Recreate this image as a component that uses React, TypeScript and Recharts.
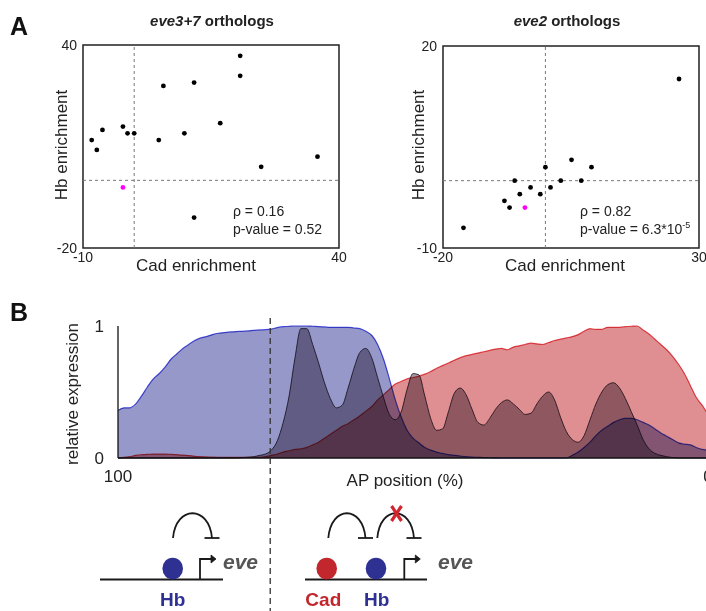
import React from 'react';
import {
  ScatterChart,
  Scatter,
  XAxis,
  YAxis,
  ReferenceLine,
  ReferenceArea,
  AreaChart,
  Area,
} from 'recharts';

const FONT = 'Arial, "Liberation Sans", Helvetica, sans-serif';

// panel A, eve3+7 orthologs
const cadEve37 = [-8.3, -7.3, -6.2, -2.2, -1.3, 0, 4.8, 5.7, 9.8, 11.7, 11.7, 16.8, 20.7, 20.7, 24.8, 35.8];
const hbEve37 = [11.9, 9.0, 14.9, 15.9, 13.9, 13.9, 11.9, 27.9, 13.9, 28.9, -11.0, 16.9, 36.8, 30.9, 4.0, 7.0];
const cadEve37Mel = [-2.2];
const hbEve37Mel = [-2.1];

// panel A, eve2 orthologs
const cadEve2 = [26.1, 5.1, 9.0, 0, 3.0, 7.0, -6.0, -2.9, 1.0, -5.0, -1.0, -8.0, -7.0, -16.0];
const hbEve2 = [15.1, 3.1, 2.0, 2.0, 0, 0, 0, -1.0, -1.0, -2.0, -2.0, -3.0, -4.0, -7.0];
const cadEve2Mel = [-4.0];
const hbEve2Mel = [-4.0];

// panel B, AP position 100 -> 0 (%)
const apPosition = [
  100, 99, 98, 97, 96, 95, 94, 93, 92, 91, 90, 89, 88, 87, 86, 85, 84, 83, 82, 81,
  80, 79, 78, 77, 76, 75, 74, 73, 72, 71, 70, 69, 68, 67, 66, 65, 64, 63, 62, 61,
  60, 59, 58, 57, 56, 55, 54, 53, 52, 51, 50, 49, 48, 47, 46, 45, 44, 43, 42, 41,
  40, 39, 38, 37, 36, 35, 34, 33, 32, 31, 30, 29, 28, 27, 26, 25, 24, 23, 22, 21,
  20, 19, 18, 17, 16, 15, 14, 13, 12, 11, 10, 9, 8, 7, 6, 5, 4, 3, 2, 1, 0,
];
const hbExpression = [
  0.36, 0.38, 0.38, 0.41, 0.47, 0.54, 0.6, 0.64, 0.69, 0.75, 0.79,
  0.83, 0.86, 0.89, 0.91, 0.92, 0.935, 0.945, 0.95, 0.955, 0.958,
  0.96, 0.963, 0.967, 0.97, 0.972, 0.977, 0.988, 0.995, 0.997, 1.0,
  1.0, 1.0, 0.998, 0.996, 0.993, 0.99, 0.99, 0.99, 0.99, 0.985,
  0.98, 0.96, 0.93, 0.86, 0.75, 0.6, 0.44, 0.31, 0.21, 0.15,
  0.115, 0.08, 0.06, 0.045, 0.035, 0.025, 0.02, 0.015, 0.01, 0.007,
  0.005, 0.003, 0.002, 0.001, 0, 0, 0, 0, 0, 0,
  0, 0, 0, 0, 0, 0, 0.02, 0.045, 0.08, 0.12,
  0.17, 0.21, 0.24, 0.27, 0.29, 0.3, 0.3, 0.29, 0.27, 0.25,
  0.22, 0.19, 0.165, 0.14, 0.115, 0.105, 0.1, 0.08, 0.065, 0.06,
];
const cadExpression = [
  0, 0.005, 0.01, 0.02, 0.025, 0.028, 0.03, 0.03, 0.03, 0.028, 0.025,
  0.022, 0.018, 0.013, 0.01, 0.008, 0.006, 0.005, 0.005, 0.005, 0.005,
  0.005, 0.005, 0.005, 0.005, 0.01, 0.02, 0.03, 0.045, 0.055, 0.065,
  0.07, 0.08, 0.1, 0.12, 0.15, 0.18, 0.21, 0.24, 0.26, 0.29,
  0.32, 0.355, 0.39, 0.44, 0.48, 0.52, 0.56, 0.58, 0.6, 0.61,
  0.62, 0.635, 0.655, 0.68, 0.7, 0.72, 0.74, 0.76, 0.775, 0.785,
  0.795, 0.805, 0.815, 0.825, 0.83, 0.82, 0.84, 0.85, 0.86, 0.87,
  0.865, 0.86, 0.875, 0.89, 0.9, 0.91, 0.92, 0.935, 0.96, 0.98,
  0.975, 0.975, 0.99, 0.99, 0.99, 0.995, 0.998, 1.0, 0.97, 0.94,
  0.9, 0.86, 0.82, 0.77, 0.71, 0.64, 0.55, 0.46, 0.4, 0.33,
];
const eveExpression = [
  0, 0, 0, 0, 0, 0, 0, 0, 0, 0, 0,
  0, 0, 0, 0, 0, 0, 0, 0, 0, 0,
  0.003, 0.006, 0.01, 0.02, 0.03, 0.06, 0.13, 0.27, 0.47, 0.76,
  0.98, 0.98, 0.86, 0.72, 0.57, 0.45, 0.38, 0.4, 0.53, 0.68,
  0.8, 0.83, 0.76, 0.61, 0.46, 0.33, 0.29, 0.35, 0.52, 0.64,
  0.63, 0.47, 0.3, 0.21, 0.22, 0.35, 0.49, 0.53, 0.48, 0.37,
  0.27, 0.25, 0.3, 0.37, 0.42, 0.44, 0.41, 0.37, 0.33, 0.34,
  0.41, 0.47, 0.5, 0.44, 0.31, 0.2, 0.14, 0.12, 0.17, 0.29,
  0.41, 0.5, 0.555, 0.57, 0.53, 0.45, 0.35, 0.25, 0.14, 0.07,
  0.035, 0.02, 0.01, 0.003, 0, 0, 0, 0, 0, 0,
];
const apTicks = [100, 0];
const exprTicks = [0, 1];
const hbBoundary = 74.2;

const toPoints = (xs: number[], ys: number[]) => xs.map((x, i) => ({ x, y: ys[i] }));

const profile = apPosition.map((ap, i) => ({
  ap,
  hb: hbExpression[i],
  cad: cadExpression[i],
  eve: eveExpression[i],
}));

const dot = (color: string) => (p: any) => <circle cx={p.cx} cy={p.cy} r={2.4} fill={color} />;

const tickStyle = { fontSize: 14, fill: '#222', fontFamily: FONT };

interface OrthoProps {
  cad: number[];
  hb: number[];
  melCad: number[];
  melHb: number[];
  xDomain: [number, number];
  yDomain: [number, number];
  width: number;
  margin: { top: number; right: number; bottom: number; left: number };
}

// axis boxes: x axis 20px tall, y axis 30px wide (taken out of the margins)
function OrthoScatter({ cad, hb, melCad, melHb, xDomain, yDomain, width, margin }: OrthoProps) {
  return (
    <ScatterChart
      width={width}
      height={290}
      margin={{ ...margin, left: margin.left - 30, bottom: margin.bottom - 20 }}
    >
      <XAxis
        type="number"
        dataKey="x"
        domain={xDomain}
        ticks={xDomain}
        height={20}
        axisLine={false}
        tickLine={false}
        tickSize={0}
        tickMargin={4}
        tick={tickStyle}
        allowDataOverflow
      />
      <YAxis
        type="number"
        dataKey="y"
        domain={yDomain}
        ticks={yDomain}
        width={30}
        axisLine={false}
        tickLine={false}
        tickSize={0}
        tickMargin={6}
        tick={tickStyle}
        allowDataOverflow
      />
      <ReferenceArea
        x1={xDomain[0]}
        x2={xDomain[1]}
        y1={yDomain[0]}
        y2={yDomain[1]}
        fill="none"
        fillOpacity={0}
        stroke="#222"
        strokeWidth={1.5}
      />
      <ReferenceLine x={0} stroke="#777" strokeDasharray="3 3" />
      <ReferenceLine y={0} stroke="#777" strokeDasharray="3 3" />
      <Scatter data={toPoints(cad, hb)} shape={dot('#000')} isAnimationActive={false} />
      <Scatter data={toPoints(melCad, melHb)} shape={dot('#ff00ff')} isAnimationActive={false} />
    </ScatterChart>
  );
}

// panel B geometry (page px)
const B_TOP = 300;
const B_LEFT = 118;
const B_RIGHT = 708;
const boundaryX = B_LEFT + ((100 - hbBoundary) / 100) * (B_RIGHT - B_LEFT);

function Arc({ x1, x2, barHalf = 7.5 }: { x1: number; x2: number; barHalf?: number }) {
  return (
    <g stroke="#1a1a1a" strokeWidth={1.8} fill="none">
      <path d={`M ${x1} 538 C ${x1 + 3} 505, ${x2 - 3} 505, ${x2} 538`} />
      <line x1={x2 - barHalf} x2={x2 + barHalf} y1={538} y2={538} />
    </g>
  );
}

function Promoter({ x }: { x: number }) {
  return (
    <g stroke="#1a1a1a" strokeWidth={1.8} fill="none">
      <polyline points={`${x},579 ${x},559 ${x + 13},559`} />
      <path d={`M ${x + 11} 555 L ${x + 16} 559 L ${x + 11} 563 Z`} fill="#1a1a1a" strokeWidth={0.8} />
    </g>
  );
}

export default function App() {
  return (
    <div
      style={{
        position: 'absolute',
        left: 0,
        top: 0,
        width: 706,
        height: 611,
        overflow: 'hidden',
        background: '#fff',
        fontFamily: FONT,
      }}
    >
      <style>{`.panelB .recharts-area-area, .panelB .recharts-area-curve { mix-blend-mode: multiply; }`}</style>
      <div style={{ position: 'absolute', left: 0, top: 0 }}>
        <OrthoScatter
          cad={cadEve37}
          hb={hbEve37}
          melCad={cadEve37Mel}
          melHb={hbEve37Mel}
          xDomain={[-10, 40]}
          yDomain={[-20, 40]}
          width={350}
          margin={{ top: 45, right: 11, bottom: 42, left: 83 }}
        />
      </div>
      <div style={{ position: 'absolute', left: 350, top: 0 }}>
        <OrthoScatter
          cad={cadEve2}
          hb={hbEve2}
          melCad={cadEve2Mel}
          melHb={hbEve2Mel}
          xDomain={[-20, 30]}
          yDomain={[-10, 20]}
          width={356}
          margin={{ top: 46, right: 7, bottom: 42, left: 93 }}
        />
      </div>
      <div className="panelB" style={{ position: 'absolute', left: 0, top: B_TOP }}>
        <AreaChart
          width={740}
          height={200}
          data={profile}
          margin={{ top: 26, right: 740 - B_RIGHT, bottom: 12, left: B_LEFT - 30 }}
        >
          <XAxis
            type="number"
            dataKey="ap"
            domain={[0, 100]}
            reversed
            ticks={apTicks}
            height={30}
            tickLine={false}
            tickSize={0}
            tickMargin={12}
            axisLine={{ stroke: '#111', strokeWidth: 1.3 }}
            tick={{ fontSize: 17, fill: '#222', fontFamily: FONT }}
          />
          <YAxis
            type="number"
            domain={[0, 1]}
            ticks={exprTicks}
            width={30}
            tickLine={false}
            tickSize={0}
            tickMargin={14}
            axisLine={{ stroke: '#111', strokeWidth: 1.3 }}
            tick={{ fontSize: 17, fill: '#222', fontFamily: FONT }}
          />
          <Area
            type="monotone"
            dataKey="hb"
            fill="#9698c9"
            fillOpacity={1}
            stroke="#4c52e4"
            strokeWidth={1.2}
            isAnimationActive={false}
          />
          <Area
            type="monotone"
            dataKey="cad"
            fill="#df8f92"
            fillOpacity={1}
            stroke="#e94a50"
            strokeWidth={1.2}
            isAnimationActive={false}
          />
          <Area
            type="monotone"
            dataKey="eve"
            fill="#a49aa6"
            fillOpacity={1}
            stroke="#3a3040"
            strokeWidth={0.9}
            isAnimationActive={false}
          />
        </AreaChart>
      </div>
      <svg
        width={706}
        height={611}
        style={{ position: 'absolute', left: 0, top: 0, pointerEvents: 'none' }}
        fontFamily={FONT}
      >
        <text x={10} y={35} fontSize={25} fontWeight="bold" fill="#111">A</text>
        <text x={212} y={26} fontSize={15} fontWeight="bold" textAnchor="middle" fill="#222">
          <tspan fontStyle="italic">eve3+7</tspan> orthologs
        </text>
        <text x={567} y={26} fontSize={15} fontWeight="bold" textAnchor="middle" fill="#222">
          <tspan fontStyle="italic">eve2</tspan> orthologs
        </text>
        <text x={61} y={145} fontSize={17} fill="#222" textAnchor="middle" dominantBaseline="central" transform="rotate(-90 61 145)">
          Hb enrichment
        </text>
        <text x={418} y={145} fontSize={17} fill="#222" textAnchor="middle" dominantBaseline="central" transform="rotate(-90 418 145)">
          Hb enrichment
        </text>
        <text x={196} y={271} fontSize={17} fill="#222" textAnchor="middle">Cad enrichment</text>
        <text x={565} y={271} fontSize={17} fill="#222" textAnchor="middle">Cad enrichment</text>
        <text x={233} y={216} fontSize={14} fill="#222">ρ = 0.16</text>
        <text x={233} y={234} fontSize={14} fill="#222">p-value = 0.52</text>
        <text x={580} y={216} fontSize={14} fill="#222">ρ = 0.82</text>
        <text x={580} y={234} fontSize={14} fill="#222">
          p-value = 6.3*10<tspan fontSize={9} dy={-6}>-5</tspan>
        </text>

        <text x={10} y={321} fontSize={25} fontWeight="bold" fill="#111">B</text>
        <text x={72} y={394} fontSize={17} fill="#222" textAnchor="middle" dominantBaseline="central" transform="rotate(-90 72 394)">
          relative expression
        </text>
        <text x={405} y={486} fontSize={17} fill="#222" textAnchor="middle">AP position (%)</text>
        <line x1={boundaryX} x2={boundaryX} y1={318} y2={611} stroke="#333" strokeWidth={1.3} strokeDasharray="6 4" />

        {/* anterior: Hb alone */}
        <line x1={100} x2={223} y1={579.5} y2={579.5} stroke="#1a1a1a" strokeWidth={2} />
        <ellipse cx={172.7} cy={568.5} rx={10.3} ry={10.8} fill="#2e3192" />
        <Promoter x={200} />
        <Arc x1={173} x2={212} />
        <text x={223} y={569} fontSize={21} fontWeight="bold" fontStyle="italic" fill="#555">eve</text>
        <text x={172.7} y={606} fontSize={19} fontWeight="bold" fill="#2e3192" textAnchor="middle">Hb</text>

        {/* posterior: Cad blocks Hb */}
        <line x1={305} x2={427} y1={579.5} y2={579.5} stroke="#1a1a1a" strokeWidth={2} />
        <ellipse cx={326.7} cy={568.5} rx={10.3} ry={10.8} fill="#c1272d" />
        <ellipse cx={376} cy={568.5} rx={10.3} ry={10.8} fill="#2e3192" />
        <Promoter x={404.3} />
        <Arc x1={328.3} x2={365.5} />
        <Arc x1={377.3} x2={414} />
        <g stroke="#d0262d" strokeWidth={3.2}>
          <line x1={391.5} y1={506} x2={401.5} y2={521} />
          <line x1={401.5} y1={506} x2={391.5} y2={521} />
        </g>
        <text x={438} y={569} fontSize={21} fontWeight="bold" fontStyle="italic" fill="#555">eve</text>
        <text x={323.3} y={606} fontSize={19} fontWeight="bold" fill="#c1272d" textAnchor="middle">Cad</text>
        <text x={376.7} y={606} fontSize={19} fontWeight="bold" fill="#2e3192" textAnchor="middle">Hb</text>
      </svg>
    </div>
  );
}
